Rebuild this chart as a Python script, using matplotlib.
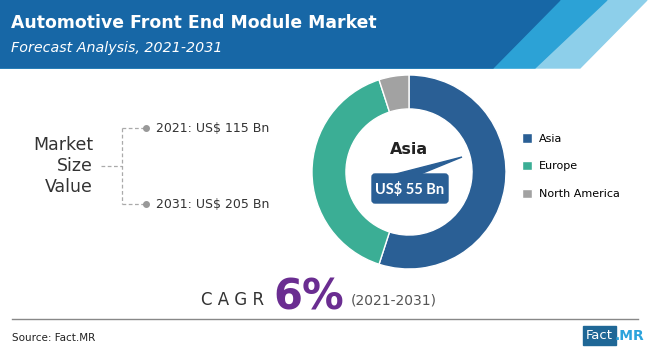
import matplotlib
matplotlib.use("Agg")
import matplotlib.pyplot as plt
from matplotlib.patches import Polygon, FancyBboxPatch, Rectangle

# data
regions = ["Asia", "Europe", "North America"]
shares = [55, 40, 5]
region_colors = ["#2a5f95", "#3bae95", "#a2a2a2"]
market_years = ["2021", "2031"]
market_values = [115, 205]
highlight_value = 55
cagr = 6

W, H = 650, 355
fig = plt.figure(figsize=(W / 100, H / 100), dpi=100)
ax = fig.add_axes([0, 0, 1, 1])
ax.set_xlim(0, W)
ax.set_ylim(H, 0)
ax.axis("off")

# header band
ax.add_patch(Polygon([(0, 0), (647, 0), (580, 68), (0, 68)], color="#8dcfea"))
ax.add_patch(Polygon([(0, 0), (607, 0), (535, 68), (0, 68)], color="#2ca2d6"))
ax.add_patch(Polygon([(0, 0), (560, 0), (493, 68), (0, 68)], color="#1767a6"))
ax.text(11, 23, "Automotive Front End Module Market", color="white",
        fontsize=12.4, fontweight="bold", va="center", ha="left")
ax.text(11, 48, "Forecast Analysis, 2021-2031", color="white",
        fontsize=10.3, style="italic", va="center", ha="left")

# market size block
for i, line in enumerate(["Market", "Size", "Value"]):
    ax.text(93, 145 + i * 21, line, fontsize=12.5, color="#333333",
            ha="right", va="center")
ax.plot([101, 122], [166, 166], ls=(0, (3, 2)), color="#aaaaaa", lw=0.9)
ys = [128, 204]
ax.plot([122, 122], ys, ls=(0, (3, 2)), color="#aaaaaa", lw=0.9)
for y, yr, v in zip(ys, market_years, market_values):
    ax.plot([122, 145], [y, y], ls=(0, (3, 2)), color="#aaaaaa", lw=0.9)
    ax.plot(146, y, "o", color="#999999", ms=4)
    ax.text(156, y, f"{yr}: US$ {v} Bn", fontsize=9, color="#333333",
            ha="left", va="center")

# donut
cx, cy, r = 409, 172, 97
pax = fig.add_axes([(cx - r) / W, (H - cy - r) / H, 2 * r / W, 2 * r / H])
wedges, _ = pax.pie(shares, colors=region_colors, startangle=90, counterclock=False,
                    radius=1, wedgeprops=dict(width=0.35, edgecolor="white", linewidth=1))
pax.set_xlim(-1, 1)
pax.set_ylim(-1, 1)
pax.axis("off")

pax.legend(wedges, regions, loc="center left", bbox_to_anchor=(1.06, 0.53),
           frameon=False, fontsize=8, handlelength=0.9, handleheight=0.9,
           labelspacing=1.55, handletextpad=0.6, borderaxespad=0)

# callout
ax.text(409, 150, regions[0], fontsize=11.5, fontweight="bold", color="#222222",
        ha="center", va="center")
ax.add_patch(Polygon([(392, 175), (418, 175), (462, 157)], color=region_colors[0]))
ax.add_patch(FancyBboxPatch((372, 174), 76, 29, boxstyle="round,pad=0,rounding_size=3",
                            color=region_colors[0]))
ax.text(410, 189, f"US$ {highlight_value} Bn", fontsize=10.5, fontweight="bold",
        color="white", ha="center", va="center", family="Lato")

# CAGR
ax.text(233, 300, "C A G R", fontsize=12, color="#333333", ha="center", va="center")
ax.text(309, 297, f"{cagr}%", fontsize=30, fontweight="bold", color="#6a2d91",
        ha="center", va="center", family="Liberation Sans Narrow")
ax.text(394, 300, "(2021-2031)", fontsize=10, color="#555555", ha="center", va="center")

ax.plot([12, 638], [319, 319], color="#888888", lw=1)
ax.text(12, 338, "Source: Fact.MR", fontsize=7.5, color="#222222", ha="left", va="center")

# logo
ax.add_patch(Rectangle((583, 326), 33, 19, color="#1f6796"))
ax.text(599.5, 335.5, "Fact", fontsize=9.5, color="white", ha="center", va="center")
ax.text(615, 335.5, ".MR", fontsize=10, fontweight="bold", color="#2ba3dc",
        ha="left", va="center")

fig.savefig("out.png", dpi=100)
